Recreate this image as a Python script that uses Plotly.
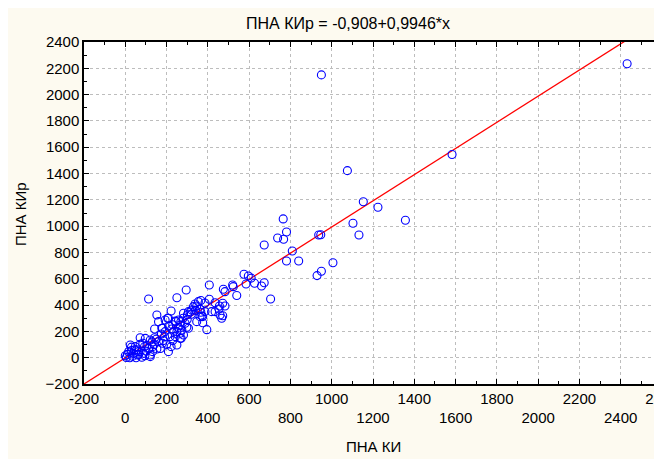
import numpy as np
import plotly.graph_objects as go

# Scatter data (ПНА КИ, ПНА КИр)
pna_ki = [950, 2431, 1583, 1076, 1153, 1224, 1103, 1132, 1357, 937, 947, 1006, 950, 929,
          765, 781, 738, 767, 673, 809, 781, 840, 626, 673, 660, 704, 610, 575, 596,
          585, 520, 523, 540, 475, 483, 407, 295, 354, 366, 386, 407, 435, 456, 472, 483,
          330, 346, 362, 306, 322, 282, 386, 418, 435, 459, 472, 454, 362, 375, 467, 346,
          375, 266, 290, 306, 395, 266, 282, 271, 113, 250, 338, 366, 371, 298, 314, 301,
          258, 245, 205, 180,
          153, 222, 161, 193, 209, 242, 269, 142, 177, 193, 225, 250, 274, 72, 97, 121,
          142, 161, 217, 242, 266, 24, 48, 72, 93, 113, 132, 153, 201, 222, 250, 16, 40,
          64, 89, 121, 132, 209, 5, 22, 52, 80, 121,
          0, 10, 35, 45, 30, 60, 100, 180, 170, 230,
          30, 55, 85, 105, 130, 150, 175, 190, 210, 235, 255, 280, 300, 320, 340, 230,
          185, 140, 65, 95]
pna_kir = [2150, 2235, 1545, 1422, 1186, 1144, 1022, 933, 1045, 933, 935, 722, 657, 624,
           1055, 956, 910, 900, 857, 811, 735, 735, 566, 570, 545, 446, 605, 634, 621,
           560, 553, 540, 473, 520, 502, 553, 515, 426, 435, 416, 444, 418, 393, 414, 393,
           388, 393, 368, 350, 363, 338, 350, 350, 350, 325, 319, 370, 312, 312, 300, 274,
           266, 249, 262, 224, 213, 186, 173, 147, 446, 456, 408, 345, 317, 231, 347, 327,
           287, 274, 300, 224,
           325, 355, 274, 287, 300, 279, 274, 218, 224, 198, 218, 198, 211, 152, 147, 135,
           152, 122, 160, 160, 147, 97, 84, 102, 84, 71, 84, 66, 102, 84, 97, 46, 33,
           46, 33, 21, 46, 46, 2, 0, 0, 3, 8,
           15, 25, 10, 60, 55, 20, 50, 110, 70, 130,
           80, 60, 110, 95, 120, 140, 180, 160, 240, 200, 230, 300, 290, 330, 360, 250,
           130, 100, 25, 15]

# Regression coefficients (from title)
intercept = -0.908
slope = 0.9946

x_ticks = list(range(-200, 2601, 200))
y_ticks = list(range(-200, 2401, 200))
x_ticktext = [str(v) if i % 2 == 0 else "<br>" + str(v) for i, v in enumerate(x_ticks)]

line_x = np.array([-200, 2600])
line_y = intercept + slope * line_x

font = "Liberation Sans, Arial, sans-serif"

W, H = 654, 451

fig = go.Figure()
fig.add_trace(go.Scatter(
    x=line_x, y=line_y, mode="lines",
    line=dict(color="#FF0000", width=1.3), hoverinfo="skip", showlegend=False))
fig.add_trace(go.Scatter(
    x=pna_ki, y=pna_kir, mode="markers",
    marker=dict(symbol="circle-open", size=8, color="#0000FF", line=dict(width=1.1, color="#0000FF")),
    showlegend=False))

fig.update_layout(
    width=W, height=H,
    margin=dict(l=76, r=0, t=34, b=75, autoexpand=False),
    paper_bgcolor="#FDFAF0", plot_bgcolor="#FFFFFF",
    font=dict(family=font, size=15, color="#000000"),
    title=dict(text="ПНА КИр = -0,908+0,9946*x", x=340/W, xref="container",
               y=1-15/H, yref="container", xanchor="center", yanchor="middle",
               font=dict(size=16)),
    xaxis=dict(range=[-200, 2600], tickvals=x_ticks, ticktext=x_ticktext, automargin=False,
               ticklabeloverflow="allow",
               showgrid=True, gridcolor="#BDBDBD", griddash="dot", gridwidth=1,
               zeroline=False, showline=True, linecolor="#000000", linewidth=1.5,
               mirror="ticks", ticks="inside", ticklen=5, tickcolor="#000000",
               minor=dict(tickvals=list(range(-100, 2600, 200)), ticks="inside", ticklen=3,
                          tickcolor="#000000", showgrid=False),
               fixedrange=True),
    yaxis=dict(range=[-200, 2400], tickvals=y_ticks, automargin=False,
               ticklabeloverflow="allow",
               showgrid=True, gridcolor="#BDBDBD", griddash="dot", gridwidth=1,
               zeroline=False, showline=True, linecolor="#000000", linewidth=1.5,
               mirror=False, ticks="inside", ticklen=5, tickcolor="#000000",
               minor=dict(tickvals=list(range(-100, 2400, 200)), ticks="inside", ticklen=3,
                          tickcolor="#000000", showgrid=False),
               fixedrange=True),
    annotations=[
        dict(text="ПНА КИ", x=0.5, y=(384-446)/342, xref="paper", yref="paper",
             showarrow=False, xanchor="center", yanchor="middle", font=dict(size=15)),
        dict(text="ПНА КИр", x=(20-84)/578, y=(384-214)/342, xref="paper", yref="paper",
             showarrow=False, xanchor="center", yanchor="middle", textangle=-90,
             font=dict(size=15)),
    ],
)

fig.write_html("out.html")
